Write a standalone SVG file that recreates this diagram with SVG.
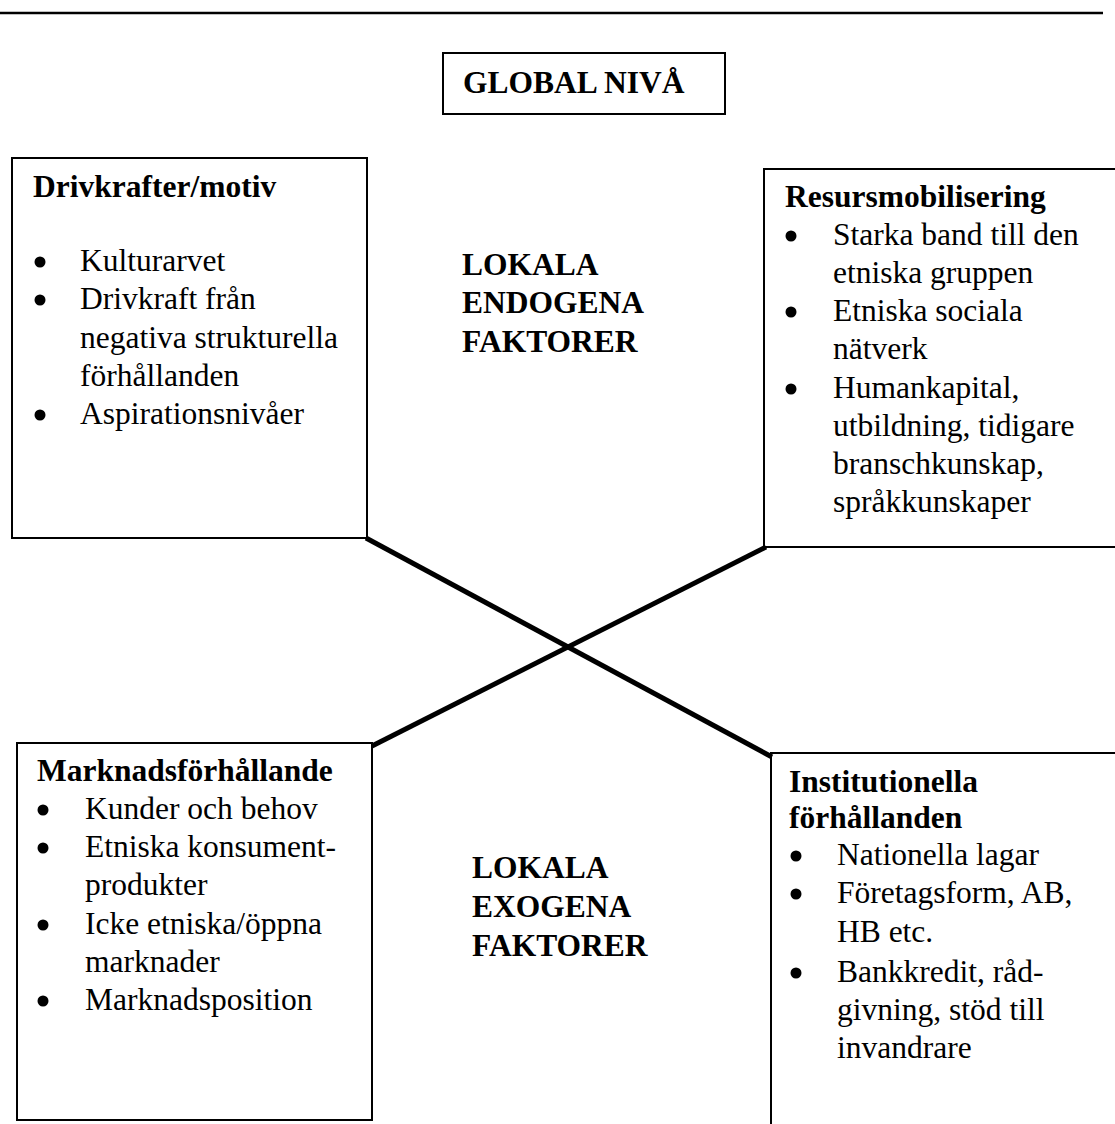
<svg xmlns="http://www.w3.org/2000/svg" width="1115" height="1124" viewBox="0 0 1115 1124">
<style>
.box{fill:#fff;stroke:#000;stroke-width:2}
.t{font-family:"Liberation Serif","Times New Roman",serif;font-size:31.5px;fill:#000}
.b{font-weight:bold}
.dot{fill:#000}
.conn{stroke:#000;stroke-width:5;fill:none}
</style>
<rect width="1115" height="1124" fill="#fff"/>
<line x1="0" y1="13" x2="1103" y2="13" stroke="#000" stroke-width="2.5"/>

<g id="global">
<rect class="box" x="443" y="53" width="282" height="61"/>
<text class="t b" x="463" y="93">GLOBAL NIVÅ</text>
</g>

<g id="drivkrafter">
<rect class="box" x="12" y="158" width="355" height="380"/>
<text class="t b" x="33" y="197">Drivkrafter/motiv</text>
<circle class="dot" cx="40" cy="262" r="5.5"/>
<text class="t" x="80" y="271">Kulturarvet</text>
<circle class="dot" cx="40" cy="300" r="5.5"/>
<text class="t" x="80" y="309">Drivkraft från</text>
<text class="t" x="80" y="348">negativa strukturella</text>
<text class="t" x="80" y="386">förhållanden</text>
<circle class="dot" cx="40" cy="415" r="5.5"/>
<text class="t" x="80" y="424">Aspirationsnivåer</text>
</g>

<g id="resurs">
<rect class="box" x="764" y="169" width="360" height="378"/>
<text class="t b" x="785" y="207">Resursmobilisering</text>
<circle class="dot" cx="791" cy="236" r="5.5"/>
<text class="t" x="833" y="245">Starka band till den</text>
<text class="t" x="833" y="283">etniska gruppen</text>
<circle class="dot" cx="791" cy="312" r="5.5"/>
<text class="t" x="833" y="321">Etniska sociala</text>
<text class="t" x="833" y="359">nätverk</text>
<circle class="dot" cx="791" cy="389" r="5.5"/>
<text class="t" x="833" y="398">Humankapital,</text>
<text class="t" x="833" y="436">utbildning, tidigare</text>
<text class="t" x="833" y="474">branschkunskap,</text>
<text class="t" x="833" y="512">språkkunskaper</text>
</g>

<g id="marknad">
<rect class="box" x="17" y="743" width="355" height="377"/>
<text class="t b" x="37" y="781">Marknadsförhållande</text>
<circle class="dot" cx="43" cy="810" r="5.5"/>
<text class="t" x="85" y="819">Kunder och behov</text>
<circle class="dot" cx="43" cy="848" r="5.5"/>
<text class="t" x="85" y="857">Etniska konsument-</text>
<text class="t" x="85" y="895">produkter</text>
<circle class="dot" cx="43" cy="925" r="5.5"/>
<text class="t" x="85" y="934">Icke etniska/öppna</text>
<text class="t" x="85" y="972">marknader</text>
<circle class="dot" cx="43" cy="1001" r="5.5"/>
<text class="t" x="85" y="1010">Marknadsposition</text>
</g>

<g id="institution">
<rect class="box" x="771" y="753" width="360" height="390"/>
<text class="t b" x="789" y="792">Institutionella</text>
<text class="t b" x="789" y="828">förhållanden</text>
<circle class="dot" cx="796" cy="856" r="5.5"/>
<text class="t" x="837" y="865">Nationella lagar</text>
<circle class="dot" cx="796" cy="894" r="5.5"/>
<text class="t" x="837" y="903">Företagsform, AB,</text>
<text class="t" x="837" y="942">HB etc.</text>
<circle class="dot" cx="796" cy="973" r="5.5"/>
<text class="t" x="837" y="982">Bankkredit, råd-</text>
<text class="t" x="837" y="1020">givning, stöd till</text>
<text class="t" x="837" y="1058">invandrare</text>
</g>

<g id="endogena">
<text class="t b" x="462" y="275">LOKALA</text>
<text class="t b" x="462" y="313">ENDOGENA</text>
<text class="t b" x="462" y="352">FAKTORER</text>
</g>

<g id="exogena">
<text class="t b" x="472" y="878">LOKALA</text>
<text class="t b" x="472" y="917">EXOGENA</text>
<text class="t b" x="472" y="956">FAKTORER</text>
</g>

<g id="connectors">
<line class="conn" x1="366" y1="538" x2="772" y2="757"/>
<line class="conn" x1="372" y1="746" x2="766" y2="547"/>
</g>
</svg>
